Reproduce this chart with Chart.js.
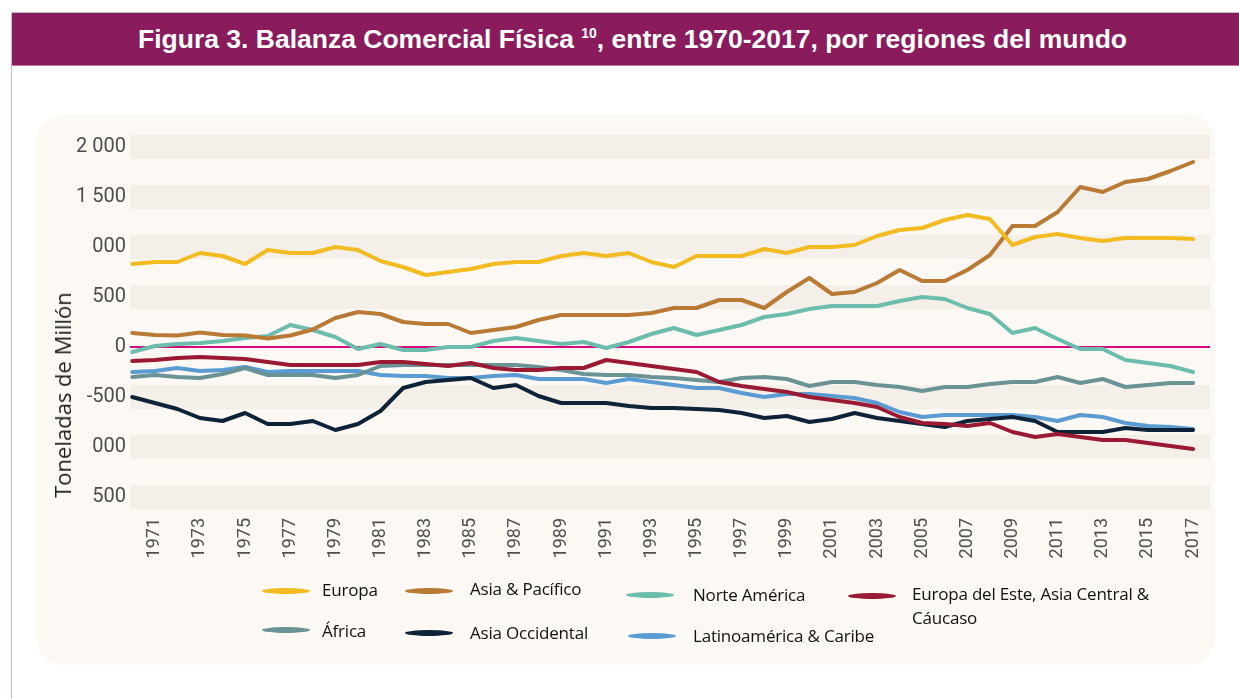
<!DOCTYPE html>
<html lang="es">
<head>
  <meta charset="UTF-8">
  <title>Balanza Comercial Física</title>
  <script src="https://cdn.jsdelivr.net/npm/chart.js"></script>
  <style>
    body {
      margin: 0;
      width: 1239px;
      height: 699px;
      position: relative;
      overflow: hidden;
      background: #ffffff;
      font-family: 'Open Sans', sans-serif;
    }
    .frame {
      position: absolute;
      left: 11px;
      top: 12px;
      width: 1240px;
      height: 700px;
      border-left: 1px solid #c9bcc6;
      border-top: 1px solid #c9bcc6;
    }
    .titlebar {
      position: absolute;
      left: 12px;
      top: 13px;
      width: 1227px;
      height: 53px;
      background: #8a1c5e;
      border-bottom: 1px solid #b77aa0;
      color: #fff;
      font: bold 26.5px 'Liberation Sans', Arial, sans-serif;
      line-height: 53px;
      text-align: center;
      padding-left: 14px;
      box-sizing: border-box;
    }
    .titlebar sup {
      font-size: 14px;
      vertical-align: 10px;
      line-height: 0;
    }
    .panel {
      position: absolute;
      left: 36px;
      top: 114px;
      width: 1179px;
      height: 551px;
      background: #fcf8f4;
      border-radius: 28px;
    }
    #chart {
      position: absolute;
      left: 0;
      top: 0;
    }
    .ytitle {
      position: absolute;
      left: 62px;
      top: 395px;
      transform: translate(-50%, -50%) rotate(-90deg);
      white-space: nowrap;
      font-size: 22px;
      color: #1d1d1d;
    }
    .lg-swatch {
      position: absolute;
      width: 48px;
      height: 6px;
      border-radius: 50%;
    }
    .lg-text {
      position: absolute;
      font-size: 17px;
      line-height: 24px;
      color: #111;
      white-space: nowrap;
      letter-spacing: -0.2px;
    }
  </style>
</head>
<body>
  <div class="frame"></div>
  <div class="titlebar">Figura 3. Balanza Comercial Física <sup>10</sup>, entre 1970-2017, por regiones del mundo</div>
  <div class="panel"></div>
  <canvas id="chart" width="1239" height="699"></canvas>
  <div class="ytitle">Toneladas de Millón</div>
  <div id="legend"></div>

  <script>
    const years = [1970, 1971, 1972, 1973, 1974, 1975, 1976, 1977, 1978, 1979,
      1980, 1981, 1982, 1983, 1984, 1985, 1986, 1987, 1988, 1989,
      1990, 1991, 1992, 1993, 1994, 1995, 1996, 1997, 1998, 1999,
      2000, 2001, 2002, 2003, 2004, 2005, 2006, 2007, 2008, 2009,
      2010, 2011, 2012, 2013, 2014, 2015, 2016, 2017];

    const europa = [830, 850, 850, 940, 910, 830, 970, 940, 940, 1000,
      970, 860, 800, 720, 750, 780, 830, 850, 850, 910,
      940, 910, 940, 850, 800, 910, 910, 910, 980, 940,
      1000, 1000, 1020, 1110, 1170, 1190, 1270, 1320, 1280, 1020,
      1100, 1130, 1090, 1060, 1090, 1090, 1090, 1080];

    const asiaPacifico = [140, 120, 115, 145, 120, 115, 85, 115, 175, 290,
      350, 330, 250, 230, 230, 140, 170, 200, 270, 320,
      320, 320, 320, 340, 390, 390, 470, 470, 390, 550,
      690, 530, 550, 640, 770, 660, 660, 770, 920, 1210,
      1210, 1350, 1600, 1550, 1650, 1680, 1760, 1850];

    const norteAmerica = [-50, 10, 30, 40, 60, 90, 110, 220, 170, 100,
      -20, 30, -30, -30, 0, 0, 60, 90, 60, 30,
      50, -10, 50, 130, 190, 120, 170, 220, 300, 330,
      380, 410, 410, 410, 460, 500, 480, 390, 330, 140,
      190, 80, -20, -20, -130, -160, -190, -250];

    const europaEste = [-140, -130, -110, -100, -110, -120, -150, -180, -180, -180,
      -180, -150, -150, -170, -190, -160, -210, -230, -230, -210,
      -210, -130, -160, -190, -220, -250, -350, -390, -420, -450,
      -500, -530, -560, -600, -700, -760, -770, -790, -760, -850,
      -900, -870, -900, -930, -930, -960, -990, -1020];

    const africa = [-300, -280, -300, -310, -270, -210, -280, -280, -280, -310,
      -280, -190, -180, -180, -180, -180, -180, -180, -200, -230,
      -270, -280, -280, -300, -310, -330, -350, -310, -300, -320,
      -390, -350, -350, -380, -400, -440, -400, -400, -370, -350,
      -350, -300, -360, -320, -400, -380, -360, -360];

    const asiaOccidental = [-500, -560, -620, -710, -740, -660, -770, -770, -740, -830,
      -770, -640, -410, -350, -330, -310, -410, -380, -490, -560,
      -560, -560, -590, -610, -610, -620, -630, -660, -710, -690,
      -750, -720, -660, -710, -740, -770, -800, -740, -720, -700,
      -740, -850, -850, -850, -810, -830, -830, -830];

    const latinoamerica = [-250, -240, -210, -240, -230, -200, -250, -240, -240, -240,
      -240, -280, -290, -290, -310, -310, -290, -280, -320, -320,
      -320, -360, -320, -350, -380, -410, -410, -460, -500, -470,
      -470, -490, -510, -560, -650, -700, -680, -680, -680, -680,
      -700, -740, -680, -700, -760, -790, -800, -820];

    const xTickYears = [1971, 1973, 1975, 1977, 1979, 1981, 1983, 1985, 1987, 1989,
      1991, 1993, 1995, 1997, 1999, 2001, 2003, 2005, 2007, 2009,
      2011, 2013, 2015, 2017];
    const yTickValues = [-1500, -1000, -500, 0, 500, 1000, 1500, 2000];
    const yTickLabels = ['500', '000', '-500', '0', '500', '000', '1 500', '2 000'];
    const bandValues = [-1500, -1000, -500, 500, 1000, 1500, 2000];

    const series = [
      { label: 'Europa', data: europa, color: '#f2bb22' },
      { label: 'Asia & Pacífico', data: asiaPacifico, color: '#b97a36' },
      { label: 'Norte América', data: norteAmerica, color: '#6cbdae' },
      { label: 'Europa del Este, Asia Central & Cáucaso', data: europaEste, color: '#9a1a34' },
      { label: 'África', data: africa, color: '#6a9396' },
      { label: 'Asia Occidental', data: asiaOccidental, color: '#0e2338' },
      { label: 'Latinoamérica & Caribe', data: latinoamerica, color: '#5a9bd2' }
    ];

    // shaded stripes behind each tick
    const bandsPlugin = {
      id: 'bands',
      beforeDraw(chart) {
        const { ctx, chartArea, scales: { y } } = chart;
        ctx.save();
        ctx.fillStyle = '#f5efe9';
        bandValues.forEach(v => {
          const top = y.getPixelForValue(v + 120);
          const bottom = y.getPixelForValue(v - 120);
          ctx.fillRect(chartArea.left, top, chartArea.right - chartArea.left, bottom - top);
        });
        ctx.restore();
      }
    };

    new Chart(document.getElementById('chart'), {
      type: 'line',
      data: {
        datasets: series.map(s => ({
          label: s.label,
          data: years.map((yr, i) => ({ x: yr, y: s.data[i] })),
          borderColor: s.color,
          backgroundColor: s.color,
          borderWidth: 4,
          pointRadius: 0,
          tension: 0,
          borderJoinStyle: 'round',
          borderCapStyle: 'round'
        }))
      },
      options: {
        responsive: false,
        animation: false,
        layout: { padding: { left: 0, top: 132, right: 29, bottom: 127 } },
        plugins: {
          legend: { display: false },
          tooltip: { enabled: false }
        },
        scales: {
          x: {
            type: 'linear',
            min: 1969.9,
            max: 2017.75,
            afterBuildTicks: scale => { scale.ticks = xTickYears.map(v => ({ value: v })); },
            afterFit: scale => { scale.height = 60; },
            grid: { display: false, drawTicks: false },
            border: { display: false },
            ticks: {
              autoSkip: false,
              minRotation: 90,
              maxRotation: 90,
              padding: 6,
              color: '#505050',
              font: { family: 'Roboto', size: 18 },
              callback: v => String(v)
            }
          },
          y: {
            min: -1650,
            max: 2150,
            afterBuildTicks: scale => { scale.ticks = yTickValues.map(v => ({ value: v })); },
            afterFit: scale => { scale.width = 130; },
            grid: {
              drawTicks: false,
              lineWidth: 2,
              color: c => (c.tick && c.tick.value === 0 ? '#d6087c' : 'rgba(0,0,0,0)')
            },
            border: { display: false },
            ticks: {
              padding: 4,
              color: '#4d4d4d',
              font: { family: 'Roboto', size: 20 },
              callback: v => yTickLabels[yTickValues.indexOf(v)]
            }
          }
        }
      },
      plugins: [bandsPlugin]
    });

    // legend laid out like the original (two rows, four columns)
    const legendSlots = [
      { sx: 262, sy: 591, tx: 322, ty: 578 },
      { sx: 405, sy: 591, tx: 470, ty: 577 },
      { sx: 626, sy: 595, tx: 693, ty: 583 },
      { sx: 848, sy: 596, tx: 912, ty: 582, w: 270 },
      { sx: 262, sy: 630, tx: 322, ty: 619 },
      { sx: 405, sy: 633, tx: 470, ty: 621 },
      { sx: 628, sy: 636, tx: 693, ty: 624 }
    ];
    const legendEl = document.getElementById('legend');
    series.forEach((s, i) => {
      const slot = legendSlots[i];
      const sw = document.createElement('div');
      sw.className = 'lg-swatch';
      sw.style.left = slot.sx + 'px';
      sw.style.top = (slot.sy - 3) + 'px';
      sw.style.background = s.color;
      legendEl.appendChild(sw);
      const tx = document.createElement('div');
      tx.className = 'lg-text';
      tx.style.left = slot.tx + 'px';
      tx.style.top = slot.ty + 'px';
      if (slot.w) {
        tx.style.whiteSpace = 'normal';
        tx.style.width = slot.w + 'px';
      }
      tx.textContent = s.label;
      legendEl.appendChild(tx);
    });
  </script>
</body>
</html>
